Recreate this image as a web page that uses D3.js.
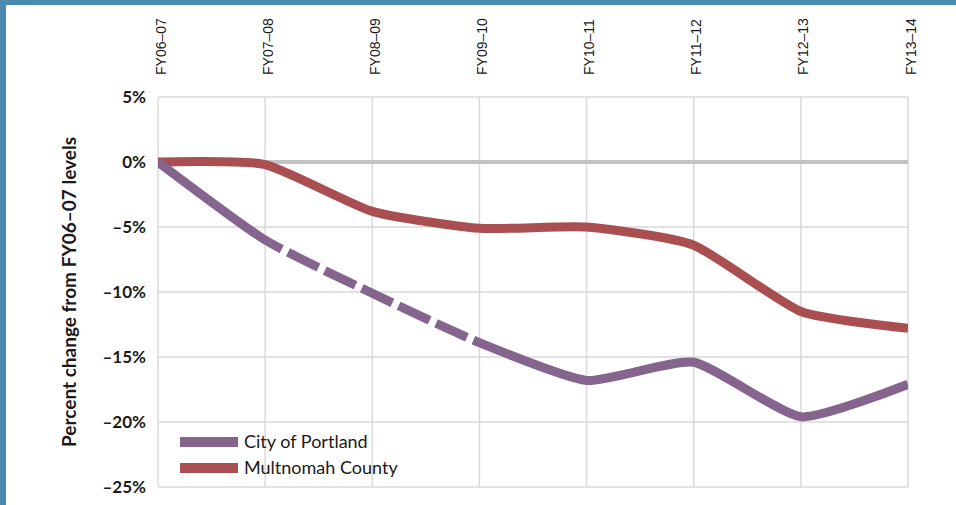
<!DOCTYPE html>
<html>
<head>
<meta charset="utf-8">
<script src="https://cdn.jsdelivr.net/npm/d3@7/dist/d3.min.js"></script>
<style>
  html, body { margin: 0; padding: 0; background: #fff; }
  svg { display: block; }
</style>
</head>
<body>
<svg id="chart" width="956" height="505"></svg>
<script>
// Fiscal years along the top axis
const years = ["FY06–07", "FY07–08", "FY08–09", "FY09–10", "FY10–11", "FY11–12", "FY12–13", "FY13–14"];
// Percent change from FY06–07 levels
const portland = [0, -6.0, -10.1, -13.9, -16.8, -15.4, -19.6, -17.1];
const multnomah = [0, -0.2, -3.8, -5.1, -5.0, -6.4, -11.5, -12.8];
const yTicks = [5, 0, -5, -10, -15, -20, -25];
const seriesNames = ["City of Portland", "Multnomah County"];
const seriesColors = ["#85648e", "#a94f51"];
// Portland's segment from FY07–08 to FY09–10 is drawn dashed
const dashedFrom = 1, dashedTo = 3;

const svg = d3.select("#chart");
const W = 956, H = 505;
const plot = { left: 158, right: 908, top: 97, bottom: 487 };

// Frame
svg.append("rect").attr("width", W).attr("height", H).attr("fill", "#4b8aac");
svg.append("rect").attr("x", 6).attr("y", 5).attr("width", W - 6).attr("height", H - 5).attr("fill", "#fff");

const x = d3.scalePoint().domain(years).range([plot.left, plot.right]);
const y = d3.scaleLinear().domain([-25, 5]).range([plot.bottom, plot.top]);

// Gridlines
const grid = svg.append("g");
grid.selectAll("line.h").data(yTicks).join("line")
  .attr("x1", plot.left).attr("x2", plot.right)
  .attr("y1", d => y(d)).attr("y2", d => y(d))
  .attr("stroke", "#d9d9d9").attr("stroke-width", 1.5);
grid.selectAll("line.v").data(years).join("line")
  .attr("x1", d => x(d)).attr("x2", d => x(d))
  .attr("y1", plot.top).attr("y2", plot.bottom)
  .attr("stroke", "#d9d9d9").attr("stroke-width", 1.5);
// Zero baseline
svg.append("line")
  .attr("x1", plot.left).attr("x2", plot.right)
  .attr("y1", y(0)).attr("y2", y(0))
  .attr("stroke", "#c3c3c3").attr("stroke-width", 4);

// Y axis labels
const yAxis = svg.append("g").attr("transform", `translate(${plot.left - 12},0)`)
  .call(d3.axisLeft(y).tickValues(yTicks).tickSize(0).tickPadding(0)
    .tickFormat(d => (d < 0 ? "–" : "") + Math.abs(d) + "%"));
yAxis.select(".domain").remove();
yAxis.selectAll("text")
  .attr("font-family", "Lato, 'Open Sans', sans-serif")
  .attr("font-weight", "bold").attr("font-size", 17).attr("fill", "#1a1a1a")
  .attr("dy", "0.35em");

// X axis labels, rotated to read upward
const xAxis = svg.append("g").attr("transform", `translate(0,${plot.top})`)
  .call(d3.axisTop(x).tickSize(0).tickPadding(0));
xAxis.select(".domain").remove();
xAxis.selectAll("text")
  .attr("font-family", "'Liberation Sans', Arial, sans-serif")
  .attr("font-size", 14).attr("fill", "#1a1a1a")
  .attr("text-anchor", "start")
  .attr("transform", "translate(2,-22) rotate(-90)")
  .attr("x", 0).attr("y", 0).attr("dy", "0.36em");

// Y axis title
svg.append("text")
  .attr("transform", `translate(76,${(plot.top + plot.bottom) / 2}) rotate(-90)`)
  .attr("text-anchor", "middle")
  .attr("font-family", "Lato, 'Open Sans', sans-serif")
  .attr("font-weight", "bold").attr("font-size", 19).attr("fill", "#1a1a1a")
  .text("Percent change from FY06–07 levels");

// Lines
svg.append("clipPath").attr("id", "plotClip")
  .append("rect").attr("x", plot.left).attr("y", 0)
  .attr("width", plot.right - plot.left).attr("height", H);

const line = d3.line()
  .x((d, i) => x(years[i]))
  .y(d => y(d))
  .curve(d3.curveCardinal.tension(0.45));

const lines = svg.append("g").attr("clip-path", "url(#plotClip)");

const countyPath = lines.append("path")
  .attr("d", line(multnomah))
  .attr("fill", "none").attr("stroke", seriesColors[1])
  .attr("stroke-width", 9).attr("stroke-linejoin", "round");

const cityPath = lines.append("path")
  .attr("d", line(portland))
  .attr("fill", "none").attr("stroke", seriesColors[0])
  .attr("stroke-width", 9).attr("stroke-linejoin", "round");

// Length along the path at which it reaches a given x position
function lengthAtX(pathNode, targetX) {
  const total = pathNode.getTotalLength();
  let lo = 0, hi = total;
  for (let k = 0; k < 40; k++) {
    const mid = (lo + hi) / 2;
    if (pathNode.getPointAtLength(mid).x < targetX) lo = mid; else hi = mid;
  }
  return (lo + hi) / 2;
}

(function applyDashes() {
  const node = cityPath.node();
  const total = node.getTotalLength();
  const L1 = lengthAtX(node, x(years[dashedFrom]));
  const L2 = lengthAtX(node, x(years[dashedTo]));
  const dash = 34, gap = 7, lead = 19;
  const arr = [];
  let pos = L1 + lead;
  arr.push(pos);
  while (pos + gap + dash < L2) {
    arr.push(gap, dash);
    pos += gap + dash;
  }
  // remaining gap, then solid to the end
  arr.push(gap, total);
  cityPath.attr("stroke-dasharray", arr.join(" "));
})();

// Legend
const legend = svg.append("g").attr("transform", "translate(180,442)");
seriesNames.forEach((name, i) => {
  const g = legend.append("g").attr("transform", `translate(0,${i * 26})`);
  g.append("rect").attr("x", 0).attr("y", -5).attr("width", 58).attr("height", 10)
    .attr("fill", seriesColors[i]);
  g.append("text").attr("x", 64).attr("y", 0).attr("dy", "0.35em")
    .attr("font-family", "Lato, 'Open Sans', sans-serif")
    .attr("font-size", 18).attr("fill", "#1a1a1a")
    .text(name);
});
</script>
</body>
</html>
